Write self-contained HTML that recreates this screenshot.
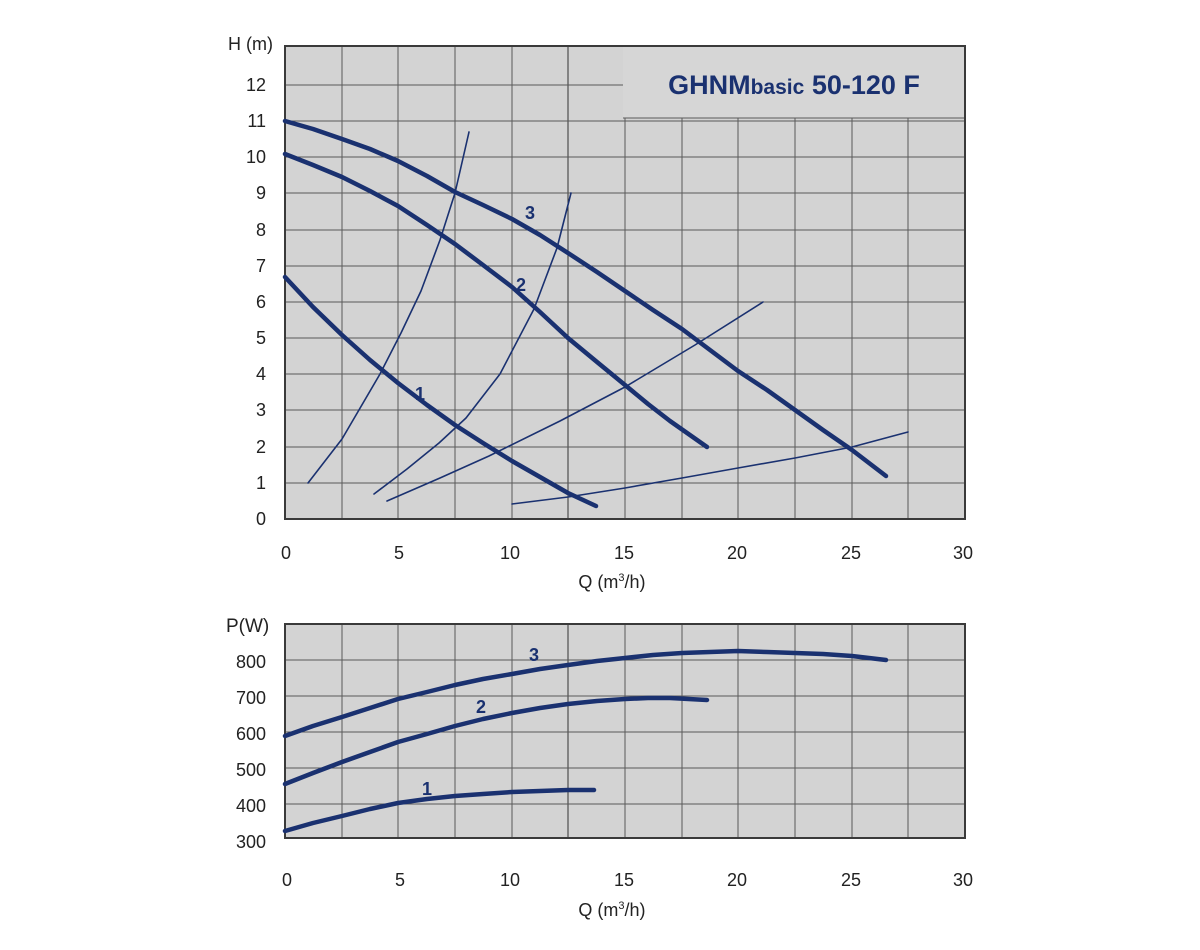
<!DOCTYPE html>
<html><head><meta charset="utf-8"><style>
html,body{margin:0;padding:0;background:#fff;width:1200px;height:950px;overflow:hidden}
text{font-family:"Liberation Sans",sans-serif;fill:#222}
</style></head><body>
<svg width="1200" height="950" viewBox="0 0 1200 950" xmlns="http://www.w3.org/2000/svg">
<rect x="285" y="46" width="680" height="473" fill="#d3d3d3"/>
<g stroke="#5a5a5a" stroke-width="1">
<line x1="342" y1="46" x2="342" y2="519"/><line x1="398" y1="46" x2="398" y2="519"/><line x1="455" y1="46" x2="455" y2="519"/><line x1="512" y1="46" x2="512" y2="519"/><line x1="568" y1="46" x2="568" y2="519" stroke="#333"/><line x1="625" y1="46" x2="625" y2="519"/><line x1="682" y1="46" x2="682" y2="519"/><line x1="738" y1="46" x2="738" y2="519"/><line x1="795" y1="46" x2="795" y2="519"/><line x1="852" y1="46" x2="852" y2="519"/><line x1="908" y1="46" x2="908" y2="519"/>
<line x1="285" y1="483" x2="965" y2="483"/><line x1="285" y1="447" x2="965" y2="447"/><line x1="285" y1="410" x2="965" y2="410"/><line x1="285" y1="374" x2="965" y2="374"/><line x1="285" y1="338" x2="965" y2="338"/><line x1="285" y1="302" x2="965" y2="302"/><line x1="285" y1="266" x2="965" y2="266"/><line x1="285" y1="230" x2="965" y2="230"/><line x1="285" y1="193" x2="965" y2="193"/><line x1="285" y1="157" x2="965" y2="157"/><line x1="285" y1="121" x2="965" y2="121"/><line x1="285" y1="85" x2="965" y2="85"/>
</g>
<rect x="623" y="47" width="341" height="71" fill="#d6d6d6"/>
<line x1="623" y1="118" x2="965" y2="118" stroke="#5a5a5a"/>
<rect x="285" y="46" width="680" height="473" fill="none" stroke="#3a3a3a" stroke-width="2"/>
<text x="794" y="94" text-anchor="middle" font-weight="bold" font-size="27" style="fill:#1a3170">GHNM<tspan font-size="21">basic</tspan> 50-120 F</text>
<g fill="none" stroke="#1a3170" stroke-linejoin="round" stroke-linecap="round">
<polyline stroke-width="4.5" points="285,121 313,129 342,139 370,149 398,161 427,176 455,192 483,205 512,219 540,235 568,253 597,272 625,291 653,310 682,329 710,350 738,371 767,390 795,410 823,430 852,450 886,476"/>
<polyline stroke-width="4.5" points="285,154 313,165 342,177 370,191 398,206 427,225 455,244 483,265 512,287 540,312 568,338 597,362 625,385 648,404 670,421 707,447"/>
<polyline stroke-width="4.5" points="285,277 313,307 342,335 370,360 398,383 427,405 455,425 483,443 512,461 540,477 568,493 596,506"/>
<polyline stroke-width="1.6" points="308,483 342,439 380,374 401,333 421,291 440,240 455,193 469,132"/>
<polyline stroke-width="1.6" points="374,494 407,469 439,443 466,418 500,374 534,309 557,248 571,193"/>
<polyline stroke-width="1.6" points="387,501 440,478 489,456 560,421 625,387 695,345 763,302"/>
<polyline stroke-width="1.6" points="512,504 568,497 625,488 682,478 738,468 795,458 852,447 908,432"/>
</g>
<g font-weight="bold" font-size="18">
<text x="525" y="219" style="fill:#1a3170">3</text><text x="516" y="291" style="fill:#1a3170">2</text><text x="415" y="400" style="fill:#1a3170">1</text>
</g>
<g font-size="18" text-anchor="end">
<text x="266" y="91">12</text><text x="266" y="127">11</text><text x="266" y="163">10</text><text x="266" y="199">9</text><text x="266" y="236">8</text><text x="266" y="272">7</text><text x="266" y="308">6</text><text x="266" y="344">5</text><text x="266" y="380">4</text><text x="266" y="416">3</text><text x="266" y="453">2</text><text x="266" y="489">1</text><text x="266" y="525">0</text>
</g>
<text x="228" y="50" font-size="18">H (m)</text>
<g font-size="18" text-anchor="middle">
<text x="286" y="559">0</text><text x="399" y="559">5</text><text x="510" y="559">10</text><text x="624" y="559">15</text><text x="737" y="559">20</text><text x="851" y="559">25</text><text x="963" y="559">30</text>
</g>
<text x="612" y="588" font-size="18" text-anchor="middle">Q (m<tspan font-size="11" dy="-7">3</tspan><tspan dy="7">/h)</tspan></text>
<rect x="285" y="624" width="680" height="214" fill="#d3d3d3"/>
<g stroke="#5a5a5a" stroke-width="1">
<line x1="342" y1="624" x2="342" y2="838"/><line x1="398" y1="624" x2="398" y2="838"/><line x1="455" y1="624" x2="455" y2="838"/><line x1="512" y1="624" x2="512" y2="838"/><line x1="568" y1="624" x2="568" y2="838" stroke="#333"/><line x1="625" y1="624" x2="625" y2="838"/><line x1="682" y1="624" x2="682" y2="838"/><line x1="738" y1="624" x2="738" y2="838"/><line x1="795" y1="624" x2="795" y2="838"/><line x1="852" y1="624" x2="852" y2="838"/><line x1="908" y1="624" x2="908" y2="838"/>
<line x1="285" y1="660" x2="965" y2="660"/><line x1="285" y1="696" x2="965" y2="696"/><line x1="285" y1="732" x2="965" y2="732"/><line x1="285" y1="768" x2="965" y2="768"/><line x1="285" y1="804" x2="965" y2="804"/>
</g>
<rect x="285" y="624" width="680" height="214" fill="none" stroke="#3a3a3a" stroke-width="2"/>
<g fill="none" stroke="#1a3170" stroke-width="4.5" stroke-linejoin="round" stroke-linecap="round">
<polyline points="285,736 313,726 342,717 370,708 398,699 427,692 455,685 483,679 512,674 540,669 568,665 597,661 625,658 653,655 682,653 710,652 738,651 767,652 795,653 823,654 852,656 886,660"/>
<polyline points="285,784 313,773 342,762 370,752 398,742 427,734 455,726 483,719 512,713 540,708 568,704 597,701 625,699 648,698 670,698 707,700"/>
<polyline points="285,831 313,823 342,816 370,809 398,803 427,799 455,796 483,794 512,792 540,791 568,790 594,790"/>
</g>
<g font-weight="bold" font-size="18">
<text x="529" y="661" style="fill:#1a3170">3</text><text x="476" y="713" style="fill:#1a3170">2</text><text x="422" y="795" style="fill:#1a3170">1</text>
</g>
<g font-size="18" text-anchor="end">
<text x="266" y="668">800</text><text x="266" y="704">700</text><text x="266" y="740">600</text><text x="266" y="776">500</text><text x="266" y="812">400</text><text x="266" y="848">300</text>
</g>
<text x="226" y="632" font-size="19">P(W)</text>
<g font-size="18" text-anchor="middle">
<text x="287" y="886">0</text><text x="400" y="886">5</text><text x="510" y="886">10</text><text x="624" y="886">15</text><text x="737" y="886">20</text><text x="851" y="886">25</text><text x="963" y="886">30</text>
</g>
<text x="612" y="916" font-size="18" text-anchor="middle">Q (m<tspan font-size="11" dy="-7">3</tspan><tspan dy="7">/h)</tspan></text>
</svg>
</body></html>
